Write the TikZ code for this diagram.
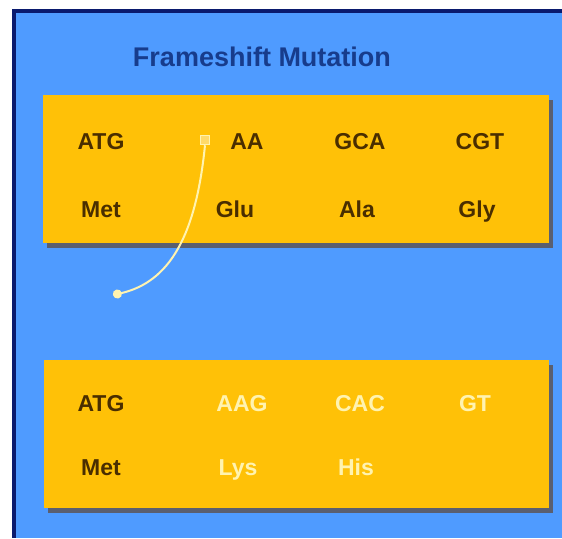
\documentclass[tikz,border=0pt]{standalone}
\usepackage{fontspec}
\setmainfont{Liberation Sans}
\definecolor{panelblue}{HTML}{4F9BFF}
\definecolor{navy}{HTML}{0A1A6E}
\definecolor{titleblue}{HTML}{173C8C}
\definecolor{amber}{HTML}{FFC107}
\definecolor{shadowgray}{HTML}{5A5F70}
\definecolor{codon}{HTML}{4A2E00}
\definecolor{shifted}{HTML}{FFF3B0}
\usetikzlibrary{arrows.meta}
\begin{document}
\begin{tikzpicture}[x=1pt,y=-1pt,
  base/.style={font=\bfseries\fontsize{23}{25}\selectfont, text=codon, inner sep=0pt, text height=16pt, text depth=5pt, anchor=center},
  moved/.style={base, text=shifted},
  ttl/.style={font=\bfseries\fontsize{27}{29}\selectfont, text=titleblue, inner sep=0pt}]
\useasboundingbox (0,0) rectangle (562,538);
\fill[white] (0,0) rectangle (562,538);
\fill[panelblue] (12,9) rectangle (562,538);
\fill[navy] (12,9) rectangle (562,13);
\fill[navy] (12,9) rectangle (16,538);
\node[ttl] (title) at (262,57) {Frameshift Mutation};
% top box
\fill[shadowgray] (47,100) rectangle (553,248);
\fill[amber] (43,95) rectangle (549,243);
% bottom box
\fill[shadowgray] (48,365) rectangle (553,513);
\fill[amber] (44,360) rectangle (549,508);
% top row
\node[base] (c1) at (101,144) {ATG};
\node[base] (c2) at (247,144) {AA};
\node[base] (c3) at (360,144) {GCA};
\node[base] (c4) at (480,144) {CGT};
\node[base] (a1) at (101,212) {Met};
\node[base] (a2) at (235,212) {Glu};
\node[base] (a3) at (357,212) {Ala};
\node[base] (a4) at (477,212) {Gly};
\node[draw=shifted, fill=amber!60!white, line width=1.5pt, minimum size=9pt, inner sep=0pt] (del) at (205,140) {};
\coordinate (land) at (113,295);
\draw[shifted, line width=2pt, -{Circle[length=9pt]}] (del.south) .. controls (196,235) and (170,282) .. (land);
% bottom rows
\node[base] (d1) at (101,406) {ATG};
\node[moved] (d2) at (242,406) {AAG};
\node[moved] (d3) at (360,406) {CAC};
\node[moved] (d4) at (475,406) {GT};
\node[base] (b1) at (101,470) {Met};
\node[moved] (b2) at (238,470) {Lys};
\node[moved] (b3) at (356,470) {His};
\end{tikzpicture}
\end{document}
